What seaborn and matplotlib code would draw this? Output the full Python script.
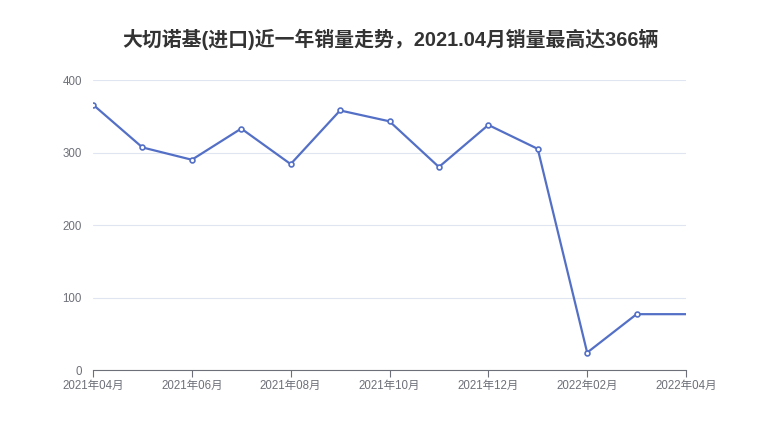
import seaborn as sns
import matplotlib.pyplot as plt
import pandas as pd

months = ['2021年04月', '2021年05月', '2021年06月', '2021年07月', '2021年08月', '2021年09月',
          '2021年10月', '2021年11月', '2021年12月', '2022年01月', '2022年02月', '2022年03月',
          '2022年04月']
sales = [366, 307, 290, 333, 284, 358, 343, 280, 338, 305, 24, 77, 77]
yticks = [0, 100, 200, 300, 400]

sns.set_style('white')
plt.rcParams['font.family'] = ['Liberation Sans', 'Noto Sans CJK SC', 'DejaVu Sans']

df = pd.DataFrame({'idx': range(len(months)), 'sales': sales})

fig = plt.figure(figsize=(7.8, 4.4), dpi=100)
ax = fig.add_axes([93 / 780, 70 / 440, (686 - 93) / 780, 290 / 440])

sns.lineplot(data=df, x='idx', y='sales', ax=ax, color='#5470c6', linewidth=1.6,
             marker='o', markersize=3.5, markerfacecolor='white', markeredgecolor='#5470c6',
             markeredgewidth=1.2, markevery=list(range(len(months) - 1)))

ax.set_xlim(0, len(months) - 1)
ax.set_ylim(0, 400)
ax.set_yticks(yticks)
ax.set_yticklabels([str(v) for v in yticks], fontsize=8.3, color='#6e7079')
ax.set_xticks(range(0, len(months), 2))
ax.set_xticklabels(months[::2], fontsize=8.3, color='#6e7079')
ax.grid(axis='y', color='#e0e6f1', linewidth=0.8)
ax.set_axisbelow(True)
for s in ['left', 'right', 'top']:
    ax.spines[s].set_visible(False)
ax.spines['bottom'].set_color('#6e7079')
ax.tick_params(axis='x', length=5, color='#6e7079', direction='out', bottom=True, pad=2)
ax.tick_params(axis='y', length=0, pad=8)
ax.set_xlabel('')
ax.set_ylabel('')

fig.suptitle('大切诺基(进口)近一年销量走势，2021.04月销量最高达366辆', x=0.5, y=0.935,
             fontsize=14.3, fontweight='bold', color='#333333')

fig.savefig('out.png', dpi=100)
